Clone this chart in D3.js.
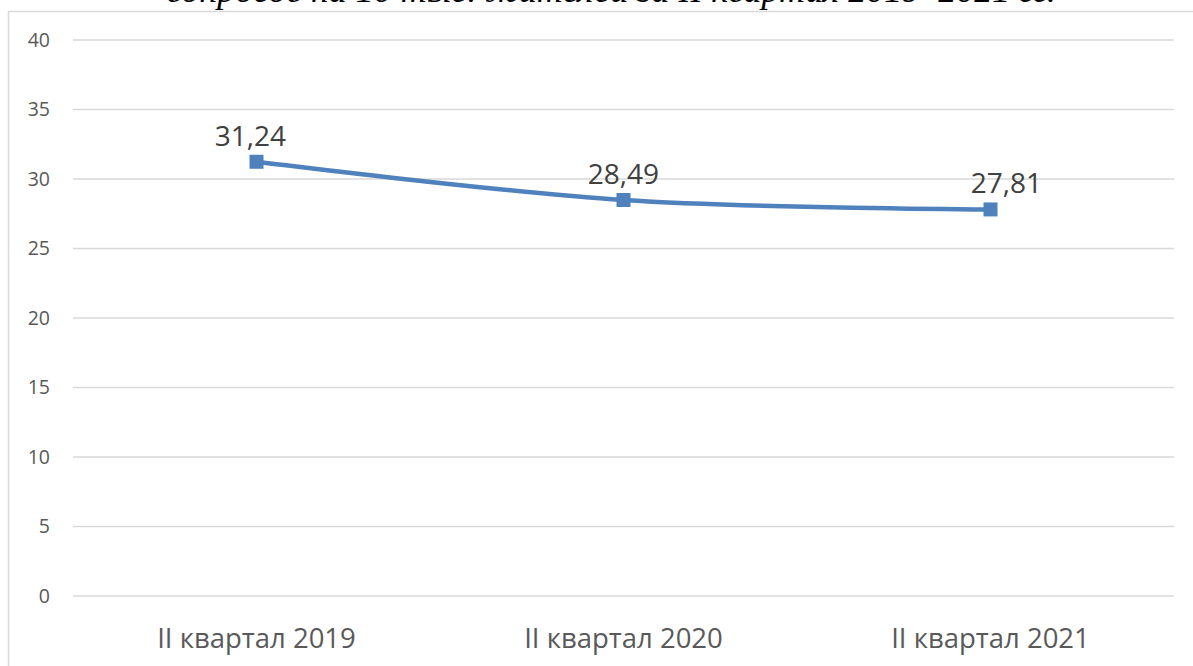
<!DOCTYPE html>
<html><head><meta charset="utf-8">
<script src="https://cdn.jsdelivr.net/npm/d3@7"></script>
<style>html,body{margin:0;padding:0;background:#fff;}svg{display:block;}</style>
</head><body>
<svg id="chart" width="1193" height="666"></svg>
<script>
const title = "вопросов на 10 тыс. жителей за II квартал 2019–2021 гг.";
const categories = ["II квартал 2019", "II квартал 2020", "II квартал 2021"];
const values = [31.24, 28.49, 27.81];
const yTicks = [0, 5, 10, 15, 20, 25, 30, 35, 40];

const svg = d3.select("#chart");
const W = 1193, H = 666;
const m = {left: 73, right: 19, top: 40, bottom: 70};
const labelShift = [-6, 0, 16]; // horizontal nudge of data labels, px

// chart frame
svg.append("rect").attr("x", 8.5).attr("y", 11.5).attr("width", 1200).attr("height", 700)
  .attr("fill", "#fff").attr("stroke", "#d9d9d9").attr("stroke-width", 1.5);

// title (cut off at top, as in the source)
svg.append("text").attr("x", 611).attr("y", 2).attr("text-anchor", "middle")
  .attr("font-family", "'Liberation Serif', 'Times New Roman', serif")
  .attr("font-style", "italic").attr("font-size", 36).attr("fill", "#000").text(title);

const x = d3.scaleBand().domain(categories).range([m.left, W - m.right]);
const y = d3.scaleLinear().domain([0, 40]).range([H - m.bottom, m.top]);

// gridlines
svg.append("g").selectAll("line").data(yTicks).join("line")
  .attr("x1", m.left).attr("x2", W - m.right)
  .attr("y1", d => y(d)).attr("y2", d => y(d))
  .attr("stroke", "#d9d9d9").attr("stroke-width", 1.5);

// y axis
const yAxis = svg.append("g").attr("transform", `translate(${m.left},0)`)
  .call(d3.axisLeft(y).tickValues(yTicks).tickSize(0).tickPadding(23));
yAxis.select(".domain").remove();
yAxis.selectAll("text").attr("font-family", "'Open Sans', 'Noto Sans', sans-serif")
  .attr("font-size", 19.5).attr("fill", "#595959");

// x axis
const xAxis = svg.append("g").attr("transform", `translate(0,${H - m.bottom})`)
  .call(d3.axisBottom(x).tickSize(0));
xAxis.select(".domain").remove();
xAxis.selectAll("text").attr("font-family", "'Open Sans', 'Noto Sans', sans-serif")
  .attr("font-size", 27.5).attr("fill", "#595959").attr("dy", null).attr("y", 52);

const cx = d => x(d) + x.bandwidth() / 2;
const pts = categories.map((c, i) => [cx(c), y(values[i])]);

svg.append("path").datum(pts)
  .attr("d", d3.line().curve(d3.curveCatmullRom.alpha(0)))
  .attr("fill", "none").attr("stroke", "#4f81bd").attr("stroke-width", 4.5)
  .attr("stroke-linecap", "round");

svg.append("g").selectAll("rect").data(pts).join("rect")
  .attr("x", d => d[0] - 7).attr("y", d => d[1] - 7)
  .attr("width", 14).attr("height", 14).attr("fill", "#4f81bd");

svg.append("g").selectAll("text").data(values).join("text")
  .attr("x", (d, i) => cx(categories[i]) + labelShift[i]).attr("y", d => y(d) - 16)
  .attr("text-anchor", "middle")
  .attr("font-family", "'Open Sans', 'Noto Sans', sans-serif")
  .attr("font-size", 28).attr("fill", "#404040")
  .text(d => d.toFixed(2).replace(".", ","));
</script>
</body></html>
